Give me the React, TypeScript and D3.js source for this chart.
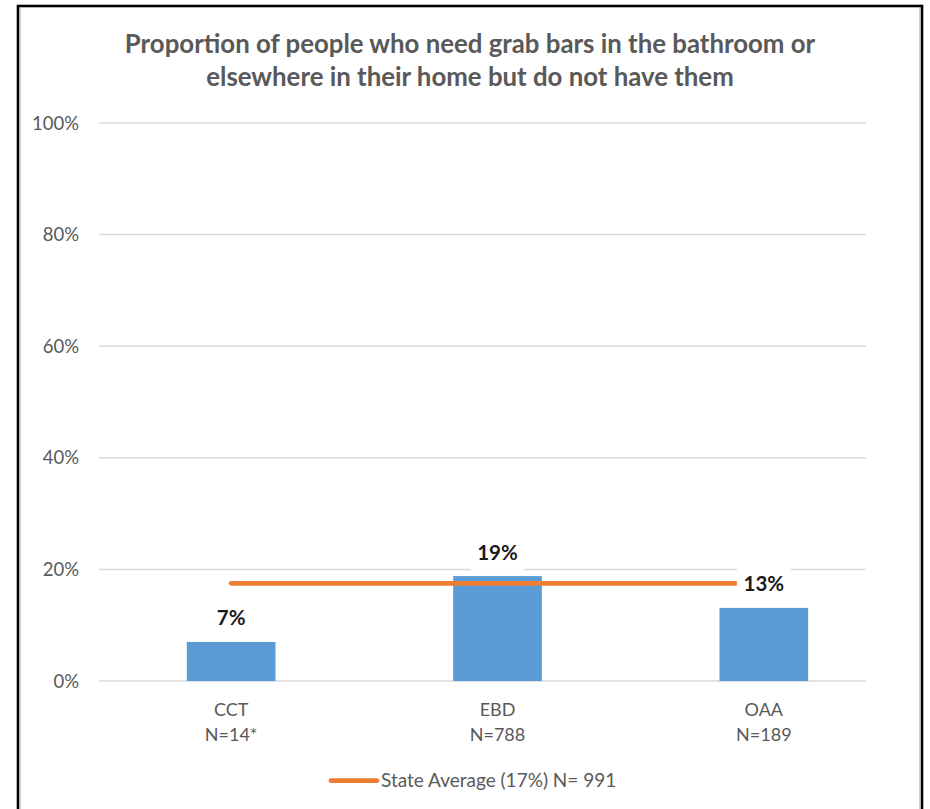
import React from "react";
import * as d3 from "d3";

const categories = ["CCT", "EBD", "OAA"];
const sampleSizes = ["N=14*", "N=788", "N=189"];
const values = [0.07, 0.188, 0.131];
const valueLabels = ["7%", "19%", "13%"];
const stateAverage = 0.175;
const legendLabel = "State Average (17%) N= 991";
const yTicks = [0, 0.2, 0.4, 0.6, 0.8, 1.0];
const titleLines = [
  "Proportion of people who need grab bars in the bathroom or",
  "elsewhere in their home but do not have them",
];

const W = 930;
const H = 809;
const FONT = "Lato, 'Open Sans', sans-serif";
const GRAY = "#595959";

export default function App() {
  const plotLeft = 98;
  const plotRight = 897;
  const gridRight = 866;
  const y = d3.scaleLinear().domain([0, 1]).range([681, 123]);
  const x = d3.scalePoint<string>().domain(categories).range([plotLeft, plotRight]).padding(0.5);
  const step = x.step();
  const barW = step * 0.333;
  const fmt = d3.format(".0%");

  return (
    <svg
      width={W}
      height={H}
      style={{ position: "absolute", left: 0, top: 0, display: "block" }}
      fontFamily={FONT}
    >
      <rect x={0} y={0} width={W} height={H} fill="#fff" />
      <rect x={18} y={6} width={904} height={830} fill="#fff" stroke="#000" strokeWidth={2.6} />
      <line x1={20.5} x2={20.5} y1={8} y2={H} stroke="#cfcfcf" strokeWidth={1} />
      <line x1={919.5} x2={919.5} y1={8} y2={H} stroke="#cfcfcf" strokeWidth={1} />

      {titleLines.map((t, i) => (
        <text
          key={i}
          x={470}
          y={53 + i * 33}
          textAnchor="middle"
          fontSize={25.8}
          fontWeight={700}
          fill={GRAY}
        >
          {t}
        </text>
      ))}

      {yTicks.map((t) => (
        <g key={t}>
          <line x1={plotLeft + 1} x2={gridRight} y1={y(t)} y2={y(t)} stroke="#d9d9d9" strokeWidth={1.5} />
          <text x={79} y={y(t) + 6.5} textAnchor="end" fontSize={18.5} fill={GRAY}>
            {fmt(t)}
          </text>
        </g>
      ))}

      {categories.map((c, i) => (
        <rect
          key={c}
          x={(x(c) as number) - barW / 2}
          y={y(values[i])}
          width={barW}
          height={y(0) - y(values[i])}
          fill="#5B9BD5"
        />
      ))}

      <line
        x1={x(categories[0])}
        x2={x(categories[categories.length - 1])}
        y1={y(stateAverage)}
        y2={y(stateAverage)}
        stroke="#ED7D31"
        strokeWidth={4.8}
        strokeLinecap="round"
      />

      {categories.map((c, i) => {
        const cx = x(c) as number;
        const base = y(values[i]) - 16.5;
        return (
          <g key={c}>
            <rect x={cx - 27} y={base - 25} width={54} height={36} fill="#fff" />
            <text x={cx} y={base} textAnchor="middle" fontSize={20.5} fontWeight={700} fill="#1a1a1a">
              {valueLabels[i]}
            </text>
          </g>
        );
      })}

      {categories.map((c, i) => (
        <g key={c}>
          <text x={x(c)} y={715.5} textAnchor="middle" fontSize={18} fill={GRAY}>
            {c}
          </text>
          <text x={x(c)} y={741} textAnchor="middle" fontSize={18} fill={GRAY}>
            {sampleSizes[i]}
          </text>
        </g>
      ))}

      <line x1={331} x2={377} y1={780.7} y2={780.7} stroke="#ED7D31" strokeWidth={4.8} strokeLinecap="round" />
      <text x={381} y={787} fontSize={19} fill={GRAY}>
        {legendLabel}
      </text>
    </svg>
  );
}
